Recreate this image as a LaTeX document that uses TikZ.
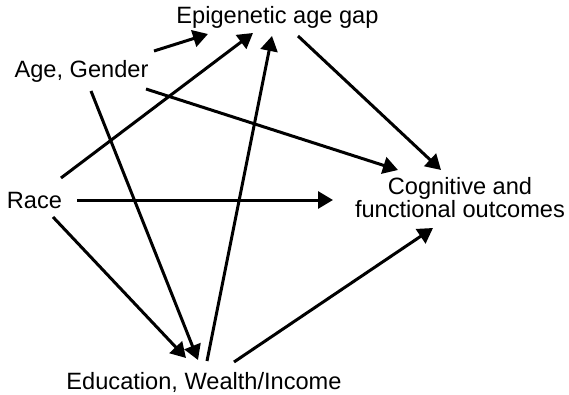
\documentclass[tikz,border=0pt]{standalone}
\usepackage{fontspec}
\setmainfont{Liberation Sans}
\usetikzlibrary{arrows.meta}
\begin{document}
\begin{tikzpicture}[x=1pt,y=-1pt,
  lbl/.style={font=\fontsize{23.6}{20}\selectfont, inner sep=0pt, anchor=base, text=black},
  arr/.style={line width=3pt, -{Triangle[length=15pt,width=17pt]}}]
\useasboundingbox (0,0) rectangle (569,395);
\node[lbl] (epi) at (277.5,24) {Epigenetic age gap};
\node[lbl] (ag) at (81.5,78) {Age, Gender};
\node[lbl] (race) at (34.5,208) {Race};
\node[lbl, align=center] (cog) at (460,217) {Cognitive and\\functional outcomes};
\node[lbl] (edu) at (204,389) {Education, Wealth/Income};
% connector end points
\coordinate (agA) at (154,51);   \coordinate (epiA) at (208,34);
\coordinate (raceA) at (61,178); \coordinate (epiB) at (253,33);
\coordinate (eduA) at (207,361); \coordinate (epiC) at (272,36);
\coordinate (epiD) at (298,36);  \coordinate (cogA) at (441,170);
\coordinate (agB) at (146,89);   \coordinate (cogB) at (398,170);
\coordinate (raceB) at (77,200); \coordinate (cogC) at (333,200);
\coordinate (agC) at (91,91);    \coordinate (eduB) at (198,360);
\coordinate (raceC) at (53,217); \coordinate (eduC) at (186,358);
\coordinate (eduD) at (234,362); \coordinate (cogD) at (433,228);
\draw[arr] (agA) -- (epiA);
\draw[arr] (raceA) -- (epiB);
\draw[arr] (eduA) -- (epiC);
\draw[arr] (epiD) -- (cogA);
\draw[arr] (agB) -- (cogB);
\draw[arr] (raceB) -- (cogC);
\draw[arr] (agC) -- (eduB);
\draw[arr] (raceC) -- (eduC);
\draw[arr] (eduD) -- (cogD);
\end{tikzpicture}
\end{document}
